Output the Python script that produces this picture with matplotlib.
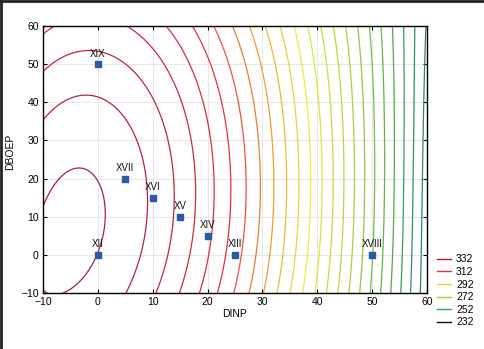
import numpy as np
import matplotlib
matplotlib.use("Agg")
import matplotlib.pyplot as plt
from matplotlib.colors import LinearSegmentedColormap
from matplotlib.lines import Line2D

plt.rcParams['font.family'] = ['Liberation Sans', 'DejaVu Sans']

# ---- contour points (x = DINP, y = DBOEP, level) ----
c1_x = [-10, -6.4, -2.9, -1.1, 0.75, 0.9, 0.4, -2.9, -6.4, -10]
c1_y = [-7.4, -10, -6.6, -3.2, 4.7, 9.1, 15.2, 21.5, 20.9, 14.9]
c2_x = [-10, -6.4, -2.7, 0.9, 4.9, 7.7, 8.6, 9.0, 7.7, 5.9]
c2_y = [36.4, 39.8, 41.1, 40.1, 35.4, 29.3, 22.2, 9.1, -1.3, -10]
c3_x = [-10, -6.4, -1.4, 2.2, 4.9, 8.2, 11.3, 13.7, 13.5, 13.7, 12.8, 10.8]
c3_y = [48.5, 51.6, 52.9, 52.4, 50.3, 45.1, 37.2, 28.3, 22.2, 11.0, 1.3, -10]
c4_x = [-10, -7.3, 5.5, 10.0, 14.4, 17.2, 18.1, 17.4, 15.3]
c4_y = [58.2, 60, 60, 53.7, 44.0, 33.5, 12.5, 0.5, -10]
# outer contours (levels 316 .. 244): crossings of top edge, y=23 and bottom edge
outer_top = [13.2, 18.1, 21.7, 24.6, 27.7, 30.1, 32.8, 35.4, 38.1, 40.5,
             42.9, 45.0, 47.4, 49.6, 51.8, 53.8, 56.0, 57.8, 59.6]
outer_mid = [21.0, 24.1, 26.6, 29.0, 31.7, 34.2, 36.6, 38.8, 41.0, 43.0,
             45.0, 46.8, 48.8, 50.6, 52.3, 54.0, 55.7, 57.4, 59.1]
outer_bot = [18.1, 21.0, 23.9, 26.5, 29.9, 32.7, 35.0, 37.4, 39.8, 41.8,
             43.8, 45.8, 48.2, 50.0, 51.4, 53.3, 55.1, 56.9, 58.7]

levels = np.arange(244, 336, 4)          # 244 ... 332
legend_levels = [332, 312, 292, 272, 252, 232]

# experimental points
pt_names = ['XIX', 'XVII', 'XVI', 'XV', 'XIV', 'XIII', 'XII', 'XVIII']
pt_x = [0, 5, 10, 15, 20, 25, 0, 50]
pt_y = [50, 20, 15, 10, 5, 0, 0, 0]

# ---- assemble samples and fit a smooth surface ----
xs, ys, vs, wts = [], [], [], []
for cx, cy, lv, wt in [(c1_x, c1_y, 332, 3.0), (c2_x, c2_y, 328, 2.0),
                       (c3_x, c3_y, 324, 1.5), (c4_x, c4_y, 320, 1.5)]:
    xs += cx; ys += cy; vs += [lv] * len(cx); wts += [wt] * len(cx)
for k in range(len(outer_top)):
    lv = 316 - 4 * k
    xs += [outer_top[k], outer_mid[k], outer_bot[k]]
    ys += [60, 23, -10]
    vs += [lv] * 3
    wts += [1.0] * 3
xs = np.array(xs); ys = np.array(ys); vs = np.array(vs, float); wts = np.array(wts)

def design(x, y, deg=4):
    u = (x - 25) / 35.0
    w = (y - 25) / 35.0
    cols = []
    for i in range(deg + 1):
        for j in range(deg + 1 - i):
            cols.append(u ** i * w ** j)
    return np.stack(cols, axis=-1)

A = design(xs, ys) * wts[:, None]
coef, *_ = np.linalg.lstsq(A, vs * wts, rcond=None)
gx, gy = np.meshgrid(np.linspace(-10, 60, 281), np.linspace(-10, 60, 281))
gz = design(gx, gy) @ coef

cmap = LinearSegmentedColormap.from_list(
    'stat', [(0.0, '#101010'), (0.12, '#2a8a6a'), (0.2, '#3aa050'),
             (0.4, '#a8d040'), (0.56, '#f0e840'), (0.68, '#f0a030'),
             (0.8, '#e83040'), (1.0, '#a82038')])
norm = plt.Normalize(232, 332)

fig = plt.figure(figsize=(4.84, 3.49), dpi=100)
ax = fig.add_axes([0.0888, 0.1605, 0.7934, 0.765])
ax.contour(gx, gy, gz, levels=levels, colors=[cmap(norm(l)) for l in levels],
           linewidths=0.9)

ax.scatter(pt_x, pt_y, marker='s', s=14, color='#2b5aa6', zorder=5)
for n, x, y in zip(pt_names, pt_x, pt_y):
    ax.annotate(n, (x, y), xytext=(0, 4), textcoords='offset points',
                ha='center', va='bottom', fontsize=7, color='#111111')

ax.set_xlim(-10, 60)
ax.set_ylim(-10, 60)
ax.set_xticks(range(-10, 61, 10))
ax.set_yticks(range(-10, 61, 10))
ax.grid(True, color='#e4e4e4', linewidth=0.6)
ax.set_axisbelow(True)
ax.tick_params(direction='in', length=3, width=0.8, labelsize=7.5, top=True, right=True,
               pad=3)
for s in ax.spines.values():
    s.set_linewidth(1.0)
ax.set_xlabel('DINP', fontsize=7.5, labelpad=1)
ax.set_ylabel('DBOEP', fontsize=7.5)
ax.yaxis.set_label_coords(-0.073, 0.53)

handles = [Line2D([0], [0], color=cmap(norm(l)), lw=1.0) for l in legend_levels]
fig.legend(handles, [str(l) for l in legend_levels], loc='lower left',
           bbox_to_anchor=(0.895, 0.05), frameon=False, fontsize=7.5,
           handlelength=1.3, handletextpad=0.5, labelspacing=0.25, borderaxespad=0)

fig.add_artist(Line2D([0, 1], [0.997, 0.997], color='#222222', lw=2.0, transform=fig.transFigure))
fig.add_artist(Line2D([0.003, 0.003], [0, 1], color='#222222', lw=2.0, transform=fig.transFigure))

fig.savefig('out.png', dpi=100)
